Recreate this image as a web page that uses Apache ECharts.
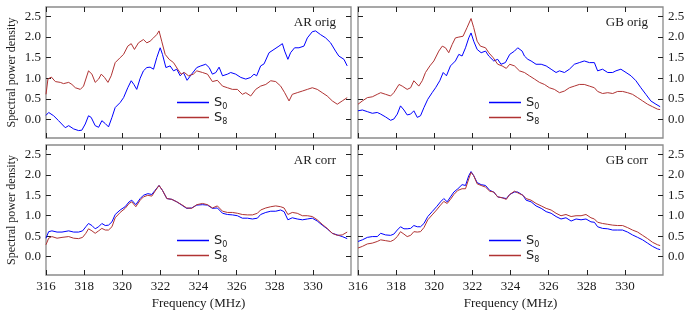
<!DOCTYPE html>
<html>
<head>
<meta charset="utf-8">
<script src="https://cdn.jsdelivr.net/npm/echarts@6/dist/echarts.min.js"></script>
<style>
  html, body { margin: 0; padding: 0; background: #fff; }
  #chart { width: 689px; height: 314px; }
</style>
</head>
<body>
<div id="chart"></div>
<script>
// tick values
const xTicks = [316, 318, 320, 322, 324, 326, 328, 330]
const yTicks = [0, 0.5, 1, 1.5, 2, 2.5]
const panelTitles = ['AR orig', 'GB orig', 'AR corr', 'GB corr']
const seriesNames = ['S0', 'S8']

// [frequency (MHz), spectral power density]
const arOrigS0 = [[316.00,0.10],[316.14,0.17],[316.40,0.09],[316.66,-0.03],[317.01,-0.20],[317.19,-0.15],[317.45,-0.23],[317.71,-0.27],[317.88,-0.26],[318.06,-0.11],[318.23,0.09],[318.37,0.05],[318.58,-0.15],[318.76,-0.19],[318.93,-0.03],[319.11,-0.10],[319.28,-0.18],[319.46,0.05],[319.63,0.29],[319.89,0.41],[320.07,0.53],[320.29,0.77],[320.47,0.94],[320.61,0.85],[320.76,0.73],[320.94,1.00],[321.11,1.18],[321.29,1.26],[321.46,1.27],[321.64,1.22],[321.81,1.50],[321.99,1.74],[322.11,1.58],[322.29,1.26],[322.51,1.30],[322.69,1.18],[322.86,1.22],[323.04,1.06],[323.21,1.14],[323.40,0.95],[323.64,1.10],[323.91,1.26],
  [324.12,1.30],[324.38,1.34],[324.56,1.26],[324.73,1.10],[324.91,1.14],[325.08,1.27],[325.26,1.06],[325.52,1.10],[325.69,1.14],[325.95,1.10],[326.22,1.02],[326.48,0.98],[326.74,1.02],[326.91,1.10],[327.05,1.06],[327.26,1.30],[327.44,1.35],[327.70,1.62],[327.96,1.70],[328.22,1.78],[328.40,1.84],[328.52,1.66],[328.69,1.46],[328.83,1.62],[329.04,1.74],[329.27,1.74],[329.53,1.78],[329.71,1.98],[329.97,2.13],[330.14,2.15],[330.40,2.06],[330.67,1.98],[330.93,1.86],[331.19,1.66],[331.36,1.54],[331.63,1.46],[331.80,1.30]]
const arOrigS8 = [[316.00,0.61],[316.10,0.98],[316.28,1.03],[316.49,0.92],[316.75,0.90],[316.92,0.87],[317.19,0.90],[317.36,0.85],[317.54,0.77],[317.80,0.73],[317.97,0.81],[318.23,1.18],[318.41,1.10],[318.58,0.90],[318.76,0.98],[318.90,1.10],[319.07,1.02],[319.25,0.90],[319.42,1.06],[319.63,1.38],[319.89,1.50],[320.07,1.58],[320.29,1.78],[320.47,1.84],[320.64,1.70],[320.85,1.86],[321.11,1.94],[321.29,1.86],[321.46,1.90],[321.64,1.98],[321.81,2.06],[321.93,2.15],[322.07,1.90],[322.25,1.58],[322.46,1.46],[322.69,1.38],[322.91,1.22],[323.09,1.10],[323.26,1.14],[323.47,1.06],[323.73,1.10],[323.91,1.18],
  [324.21,1.14],[324.47,1.10],[324.73,0.92],[324.99,0.95],[325.26,0.81],[325.52,0.77],[325.78,0.73],[326.04,0.73],[326.30,0.61],[326.48,0.65],[326.74,0.57],[327.00,0.73],[327.26,0.81],[327.53,0.85],[327.79,0.94],[328.05,0.92],[328.31,0.81],[328.52,0.65],[328.75,0.45],[328.92,0.61],[329.18,0.65],[329.45,0.69],[329.71,0.73],[329.97,0.77],[330.23,0.73],[330.49,0.65],[330.75,0.57],[331.02,0.45],[331.28,0.37],[331.54,0.45],[331.80,0.53]]
const gbOrigS0 = [[316.00,0.21],[316.23,0.23],[316.49,0.19],[316.75,0.15],[317.01,0.17],[317.19,0.13],[317.45,0.06],[317.71,-0.02],[317.88,0.01],[318.06,0.13],[318.23,0.33],[318.41,0.23],[318.58,0.11],[318.76,0.13],[318.93,0.21],[319.11,0.05],[319.28,0.09],[319.46,0.29],[319.66,0.49],[319.89,0.65],[320.07,0.77],[320.29,0.94],[320.47,1.14],[320.64,1.06],[320.85,1.30],[321.11,1.42],[321.29,1.58],[321.46,1.54],[321.64,1.74],[321.81,1.98],[321.93,2.10],[322.07,1.90],[322.25,1.70],[322.46,1.62],[322.69,1.66],[322.86,1.54],[323.12,1.42],[323.33,1.46],[323.50,1.34],[323.73,1.38],[323.96,1.58],
  [324.21,1.66],[324.38,1.74],[324.61,1.66],[324.73,1.54],[324.91,1.46],[325.08,1.42],[325.34,1.34],[325.61,1.34],[325.87,1.30],[326.13,1.22],[326.39,1.14],[326.57,1.18],[326.83,1.14],[327.09,1.22],[327.35,1.34],[327.61,1.38],[327.87,1.42],[328.14,1.38],[328.40,1.38],[328.57,1.18],[328.83,1.22],[329.10,1.14],[329.36,1.14],[329.53,1.18],[329.79,1.22],[330.06,1.14],[330.32,1.06],[330.58,0.94],[330.84,0.77],[331.10,0.61],[331.36,0.45],[331.63,0.37],[331.85,0.31]]
const gbOrigS8 = [[316.00,0.37],[316.23,0.45],[316.49,0.53],[316.75,0.55],[317.01,0.61],[317.19,0.65],[317.45,0.61],[317.71,0.57],[317.88,0.65],[318.15,0.85],[318.32,0.81],[318.58,0.73],[318.76,0.77],[318.93,0.94],[319.19,0.81],[319.37,0.94],[319.54,1.14],[319.77,1.30],[319.98,1.42],[320.24,1.66],[320.42,1.78],[320.59,1.74],[320.76,1.62],[320.94,1.82],[321.11,1.98],[321.29,2.00],[321.51,2.02],[321.72,2.23],[321.93,2.45],[322.07,2.23],[322.25,1.90],[322.42,1.78],[322.69,1.74],[322.86,1.62],[323.09,1.50],[323.33,1.34],[323.56,1.30],[323.78,1.24],[323.96,1.34],
  [324.21,1.30],[324.47,1.18],[324.73,1.14],[324.99,1.06],[325.26,0.98],[325.52,0.90],[325.78,0.85],[326.04,0.77],[326.30,0.73],[326.57,0.65],[326.83,0.69],[327.09,0.77],[327.35,0.81],[327.61,0.85],[327.87,0.85],[328.14,0.81],[328.40,0.77],[328.57,0.68],[328.83,0.63],[329.10,0.65],[329.36,0.63],[329.62,0.68],[329.88,0.68],[330.14,0.65],[330.40,0.61],[330.67,0.53],[330.93,0.45],[331.19,0.37],[331.45,0.31],[331.71,0.25],[331.85,0.24]]
const arCorrS0 = [[316.00,0.45],[316.14,0.61],[316.31,0.63],[316.58,0.60],[316.84,0.60],[317.19,0.63],[317.45,0.60],[317.71,0.60],[317.92,0.63],[318.09,0.73],[318.23,0.81],[318.41,0.76],[318.58,0.68],[318.76,0.73],[318.93,0.81],[319.11,0.76],[319.28,0.77],[319.46,0.85],[319.63,1.03],[319.89,1.14],[320.15,1.22],[320.36,1.34],[320.50,1.38],[320.71,1.27],[320.94,1.42],[321.11,1.50],[321.34,1.54],[321.55,1.52],[321.72,1.62],[321.93,1.74],[322.11,1.62],[322.34,1.42],[322.60,1.40],[322.86,1.34],[323.12,1.26],[323.38,1.18],[323.64,1.19],[323.91,1.26],
  [324.21,1.27],[324.47,1.26],[324.73,1.18],[324.99,1.19],[325.26,1.06],[325.52,1.03],[325.78,1.02],[326.04,1.00],[326.30,0.94],[326.57,0.94],[326.83,0.92],[327.09,0.94],[327.26,1.03],[327.53,1.08],[327.79,1.11],[328.05,1.11],[328.31,1.14],[328.49,1.10],[328.69,0.90],[328.92,0.95],[329.18,0.92],[329.45,0.90],[329.71,0.92],[329.97,0.94],[330.23,0.87],[330.49,0.77],[330.75,0.68],[331.02,0.57],[331.28,0.53],[331.54,0.49],[331.80,0.44]]
const arCorrS8 = [[316.00,0.29],[316.14,0.45],[316.31,0.49],[316.58,0.45],[316.84,0.47],[317.19,0.49],[317.45,0.45],[317.71,0.44],[317.92,0.47],[318.09,0.57],[318.23,0.68],[318.41,0.63],[318.58,0.57],[318.76,0.63],[318.93,0.69],[319.11,0.65],[319.28,0.65],[319.46,0.73],[319.63,0.95],[319.89,1.08],[320.15,1.18],[320.36,1.30],[320.50,1.34],[320.71,1.22],[320.94,1.38],[321.11,1.46],[321.34,1.50],[321.55,1.48],[321.72,1.60],[321.93,1.74],[322.11,1.62],[322.34,1.42],[322.60,1.40],[322.86,1.34],[323.12,1.27],[323.38,1.19],[323.64,1.18],[323.91,1.27],
  [324.21,1.30],[324.47,1.27],[324.73,1.19],[324.99,1.24],[325.26,1.11],[325.52,1.08],[325.78,1.08],[326.04,1.06],[326.30,1.03],[326.57,1.02],[326.83,1.02],[327.09,1.06],[327.26,1.14],[327.53,1.19],[327.79,1.22],[328.05,1.24],[328.31,1.22],[328.49,1.19],[328.69,1.03],[328.92,1.08],[329.18,1.06],[329.45,1.00],[329.71,1.00],[329.97,0.98],[330.23,0.90],[330.49,0.79],[330.75,0.69],[331.02,0.57],[331.28,0.52],[331.54,0.53],[331.80,0.60]]
const gbCorrS0 = [[316.00,0.37],[316.23,0.41],[316.49,0.47],[316.75,0.49],[317.01,0.49],[317.19,0.57],[317.45,0.53],[317.71,0.52],[317.88,0.55],[318.06,0.65],[318.23,0.73],[318.41,0.68],[318.58,0.68],[318.76,0.69],[318.93,0.76],[319.11,0.73],[319.28,0.73],[319.46,0.81],[319.66,0.98],[319.89,1.10],[320.12,1.22],[320.33,1.34],[320.50,1.42],[320.68,1.34],[320.85,1.46],[321.03,1.58],[321.24,1.66],[321.46,1.76],[321.64,1.74],[321.81,1.98],[321.93,2.08],[322.07,1.98],[322.25,1.81],[322.46,1.76],[322.69,1.74],[322.91,1.62],[323.12,1.58],[323.33,1.46],[323.56,1.44],[323.78,1.42],[323.96,1.52],
  [324.21,1.58],[324.38,1.58],[324.65,1.50],[324.82,1.38],[325.08,1.34],[325.34,1.24],[325.61,1.18],[325.87,1.10],[326.13,1.06],[326.39,0.98],[326.65,0.92],[326.91,0.95],[327.18,0.87],[327.44,0.92],[327.70,0.90],[327.96,0.92],[328.22,0.85],[328.40,0.84],[328.57,0.73],[328.83,0.69],[329.10,0.68],[329.36,0.65],[329.62,0.65],[329.88,0.65],[330.14,0.60],[330.40,0.53],[330.67,0.47],[330.93,0.41],[331.19,0.33],[331.45,0.25],[331.71,0.19],[331.85,0.17]]
const gbCorrS8 = [[316.00,0.21],[316.23,0.25],[316.49,0.31],[316.75,0.33],[317.01,0.37],[317.19,0.41],[317.45,0.39],[317.71,0.37],[317.88,0.41],[318.06,0.49],[318.23,0.61],[318.41,0.55],[318.58,0.49],[318.76,0.52],[318.93,0.61],[319.11,0.60],[319.28,0.61],[319.46,0.71],[319.66,0.90],[319.89,1.02],[320.12,1.14],[320.33,1.26],[320.50,1.35],[320.68,1.30],[320.85,1.40],[321.03,1.52],[321.24,1.62],[321.46,1.66],[321.64,1.66],[321.81,1.90],[321.93,2.06],[322.07,1.98],[322.25,1.78],[322.46,1.74],[322.69,1.70],[322.91,1.60],[323.12,1.58],[323.33,1.46],[323.56,1.44],[323.78,1.40],[323.96,1.52],
  [324.21,1.60],[324.38,1.56],[324.65,1.50],[324.82,1.42],[325.08,1.38],[325.34,1.30],[325.61,1.24],[325.87,1.18],[326.13,1.14],[326.39,1.06],[326.65,1.00],[326.91,1.03],[327.18,0.98],[327.44,1.00],[327.70,1.00],[327.96,1.03],[328.22,0.95],[328.40,0.92],[328.57,0.84],[328.83,0.81],[329.10,0.79],[329.36,0.77],[329.62,0.76],[329.88,0.76],[330.14,0.71],[330.40,0.65],[330.67,0.60],[330.93,0.52],[331.19,0.44],[331.45,0.35],[331.71,0.29],[331.85,0.27]]

const serif = 'Liberation Serif'
const textColor = '#1a1a1a'
const colors = ['#0000ff', '#b03333']

// panel layout: row 0 = orig, row 1 = corr; col 0 = AR (labels left), col 1 = GB (labels right)
const panels = [
  { left: 46, top: 7, height: 131, data: [arOrigS0, arOrigS8], row: 0, col: 0 },
  { left: 358, top: 7, height: 131, data: [gbOrigS0, gbOrigS8], row: 0, col: 1 },
  { left: 46, top: 145, height: 130, data: [arCorrS0, arCorrS8], row: 1, col: 0 },
  { left: 358, top: 145, height: 130, data: [gbCorrS0, gbCorrS8], row: 1, col: 1 }
]
const panelWidth = 305

const grid = []
const xAxis = []
const yAxis = []
const series = []
const title = []
const legend = []

const tickStyle = { show: true, inside: true, length: 5, lineStyle: { color: '#222', width: 1 } }

panels.forEach((p, i) => {
  grid.push({
    left: p.left, top: p.top, width: panelWidth, height: p.height,
    show: true, borderColor: '#8a8a8a', borderWidth: 1.3
  })
  // bottom and top x axes (onZero off, otherwise they sit at y = 0)
  ;['bottom', 'top'].forEach(pos => {
    const showLabel = pos === 'bottom' && p.row === 1
    xAxis.push({
      type: 'value', gridIndex: i, position: pos, min: 316, max: 332,
      axisLine: { show: false, onZero: false },
      splitLine: { show: false },
      axisTick: { ...tickStyle, customValues: xTicks },
      axisLabel: {
        show: showLabel, customValues: xTicks, margin: 5,
        fontFamily: serif, fontSize: 13, color: textColor
      },
      name: showLabel ? 'Frequency (MHz)' : '',
      nameLocation: 'middle', nameGap: 22,
      nameTextStyle: { fontFamily: serif, fontSize: 13, color: textColor }
    })
  })
  // left and right y axes
  ;['left', 'right'].forEach((pos, k) => {
    const showLabel = k === p.col
    yAxis.push({
      type: 'value', gridIndex: i, position: pos, min: -0.45, max: 2.73,
      axisLine: { show: false, onZero: false },
      splitLine: { show: false },
      axisTick: { ...tickStyle, customValues: yTicks },
      axisLabel: {
        show: showLabel, customValues: yTicks, margin: 5,
        formatter: v => v.toFixed(1),
        fontFamily: serif, fontSize: 13, color: textColor
      },
      name: (pos === 'left' && p.col === 0) ? 'Spectral power density' : '',
      nameLocation: 'middle', nameGap: 28,
      nameTextStyle: { fontFamily: serif, fontSize: 12, color: textColor }
    })
  })
  seriesNames.forEach((name, s) => {
    series.push({
      name, type: 'line', xAxisIndex: i * 2, yAxisIndex: i * 2,
      data: p.data[s], symbol: 'none', color: colors[s],
      lineStyle: { width: 1, color: colors[s] }
    })
    legend.push({
      data: [name], orient: 'vertical', icon: 'rect',
      left: p.left + 131, top: p.top + 89 + s * 15,
      itemWidth: 32, itemHeight: 1.5, padding: 0,
      selectedMode: false,
      formatter: n => '{s|S}{sub|' + n.slice(1) + '}',
      textStyle: {
        rich: {
          s: { fontFamily: 'DejaVu Sans', fontSize: 13, color: textColor, lineHeight: 16 },
          sub: { fontFamily: 'DejaVu Sans', fontSize: 8, color: textColor, verticalAlign: 'bottom', lineHeight: 16 }
        }
      }
    })
  })
  title.push({
    text: panelTitles[i], padding: 0,
    right: 689 - (p.left + panelWidth) + 15, top: p.top + 9,
    textStyle: { fontFamily: serif, fontSize: 13, fontWeight: 'normal', color: textColor }
  })
})

const chart = echarts.init(document.getElementById('chart'), null, { renderer: 'canvas' })
chart.setOption({
  animation: false,
  backgroundColor: '#fff',
  title, legend, grid, xAxis, yAxis, series
})
</script>
</body>
</html>
